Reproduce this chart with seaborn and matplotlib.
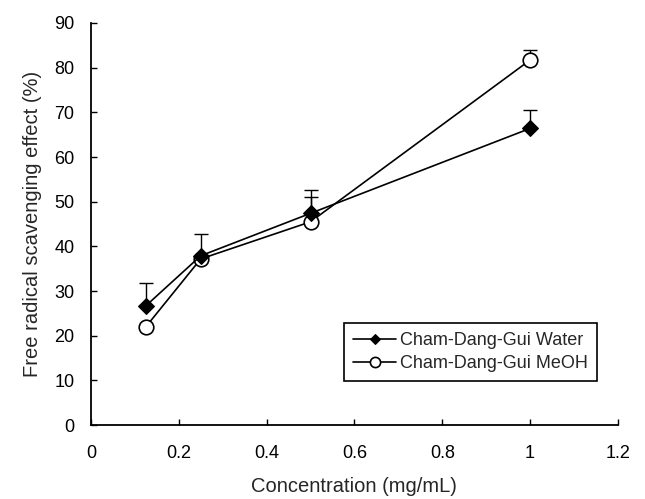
import numpy as np
import pandas as pd
import seaborn as sns
import matplotlib.pyplot as plt

# values
conc = [0.125, 0.25, 0.5, 1.0]
water = [26.7, 37.9, 47.4, 66.4]
water_err = [5.0, 4.8, 5.2, 4.1]
meoh = [22.0, 37.2, 45.5, 81.7]
meoh_err = [0.0, 0.0, 5.6, 2.2]

sns.set_style("ticks")
plt.rcParams['font.family'] = ['Liberation Sans', 'DejaVu Sans']

fig = plt.figure(figsize=(6.45, 4.99), dpi=100)
ax = fig.add_axes([0.141, 0.148, 0.817, 0.806])

# error bars (upper only)
ax.errorbar(conc, water, yerr=[np.zeros(4), water_err], fmt='none',
            ecolor='black', elinewidth=1, capsize=5, capthick=1, zorder=1)
ax.errorbar(conc, meoh, yerr=[np.zeros(4), meoh_err], fmt='none',
            ecolor='black', elinewidth=1, capsize=5, capthick=1, zorder=1)

sns.lineplot(x=conc, y=water, ax=ax, color='black', lw=1.2, marker='D',
             markersize=8, markerfacecolor='black', markeredgecolor='black',
             label='Cham-Dang-Gui Water', zorder=3)
sns.lineplot(x=conc, y=meoh, ax=ax, color='black', lw=1.2, marker='o',
             markersize=10.5, markerfacecolor='white', markeredgecolor='black',
             markeredgewidth=1.2, label='Cham-Dang-Gui MeOH', zorder=2)

ax.set_xlim(0, 1.2)
ax.set_ylim(0, 90)
ax.set_xticks([0, 0.2, 0.4, 0.6, 0.8, 1.0, 1.2])
ax.set_xticklabels(['0', '0.2', '0.4', '0.6', '0.8', '1', '1.2'])
ax.set_yticks(range(0, 91, 10))
ax.tick_params(direction='in', length=4, width=1, labelsize=13, colors='black')
ax.tick_params(axis='x', pad=14)
ax.tick_params(axis='y', pad=12)
sns.despine(ax=ax)
for s in ['left', 'bottom']:
    ax.spines[s].set_linewidth(1.3)
    ax.spines[s].set_color('black')

ax.set_xlabel('Concentration (mg/mL)', fontsize=14.5, labelpad=11)
ax.set_ylabel('Free radical scavenging effect (%)', fontsize=14.5, labelpad=9)

leg = ax.legend(loc='lower right', bbox_to_anchor=(0.960, 0.109), fontsize=13,
                frameon=True, fancybox=False, edgecolor='black', framealpha=1,
                borderpad=0.5, labelspacing=0.35, handlelength=2.4,
                handletextpad=0.2, markerscale=0.7, borderaxespad=0)
leg.get_frame().set_linewidth(1.2)

fig.savefig('out.png', dpi=100)
